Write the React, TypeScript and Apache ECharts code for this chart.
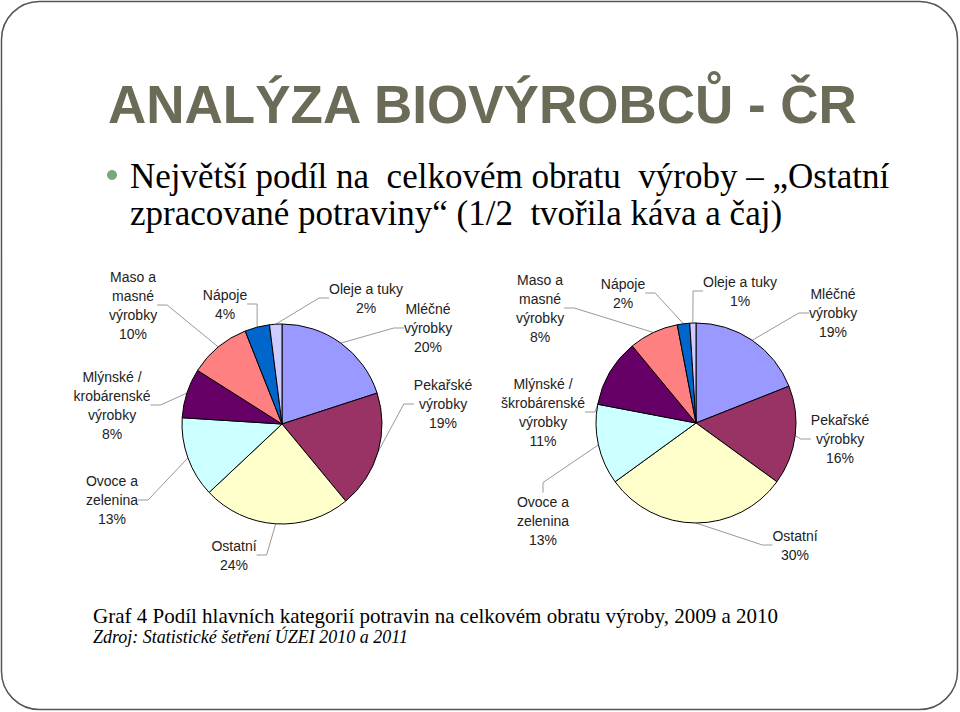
import React, { useEffect, useRef } from "react";
import * as echarts from "echarts";

// ---- data ----
const categories = [
  "Mléčné výrobky",
  "Pekařské výrobky",
  "Ostatní",
  "Ovoce a zelenina",
  "Mlýnské / škrobárenské výrobky",
  "Maso a masné výrobky",
  "Nápoje",
  "Oleje a tuky",
];
// label text as printed in each chart (line breaks as in the reference)
const labels2009 = [
  "Mléčné\nvýrobky",
  "Pekařské\nvýrobky",
  "Ostatní",
  "Ovoce a\nzelenina",
  "Mlýnské /\nkrobárenské\nvýrobky",
  "Maso a\nmasné\nvýrobky",
  "Nápoje",
  "Oleje a tuky",
];
const labels2010 = [
  "Mléčné\nvýrobky",
  "Pekařské\nvýrobky",
  "Ostatní",
  "Ovoce a\nzelenina",
  "Mlýnské /\nškrobárenské\nvýrobky",
  "Maso a\nmasné\nvýrobky",
  "Nápoje",
  "Oleje a tuky",
];
const values2009 = [20, 19, 24, 13, 8, 10, 4, 2];
const values2010 = [19, 16, 30, 13, 11, 8, 2, 1];

const sliceColors = [
  "#9999FF",
  "#993366",
  "#FFFFCC",
  "#CCFFFF",
  "#660066",
  "#FF8080",
  "#0066CC",
  "#CCCCFF",
];

// ---- layout (label anchor points, not data) ----
const labelPos2009: [number, number][] = [
  [428, 328],
  [443, 404],
  [234, 555],
  [112, 500],
  [112, 405],
  [133, 305],
  [225, 304],
  [366, 298],
];
const labelPos2010: [number, number][] = [
  [833, 313],
  [840, 439],
  [795, 545],
  [543, 521],
  [543, 412],
  [540, 308],
  [623, 293],
  [740, 291],
];

const titleText = "ANALÝZA BIOVÝROBCŮ - ČR";
const bulletLine1 = "Největší podíl na  celkovém obratu  výroby – „Ostatní";
const bulletLine2 = "zpracované potraviny“ (1/2  tvořila káva a čaj)";
const captionText =
  "Graf 4 Podíl hlavních kategorií potravin na celkovém obratu výroby, 2009 a 2010";
const sourceText = "Zdroj: Statistické šetření ÚZEI 2010 a 2011";

const SANS = "'Liberation Sans', Arial, sans-serif";
const SERIF = "'Liberation Serif', 'Times New Roman', serif";

function makePie(
  values: number[],
  texts: string[],
  pos: [number, number][],
  center: [number, number]
) {
  return {
    type: "pie",
    center,
    radius: 100,
    startAngle: 90,
    clockwise: true,
    silent: true,
    avoidLabelOverlap: false,
    emphasis: { disabled: true },
    itemStyle: { borderColor: "#000", borderWidth: 1 },
    label: {
      show: true,
      position: "outside",
      fontFamily: SANS,
      fontSize: 14,
      lineHeight: 19,
      color: "#222",
      align: "center",
    },
    labelLine: {
      show: true,
      length: 10,
      length2: 10,
      lineStyle: { color: "#999", width: 1 },
    },
    labelLayout: (p: any) => {
      const pt = pos[p.dataIndex];
      return { x: pt[0], y: pt[1], align: "center", verticalAlign: "middle" };
    },
    data: values.map((v, i) => ({
      name: categories[i],
      value: v,
      itemStyle: { color: sliceColors[i] },
      label: { formatter: texts[i] + "\n" + v + "%" },
    })),
  };
}

export default function App() {
  const ref = useRef<HTMLDivElement>(null);
  useEffect(() => {
    if (!ref.current) return;
    const chart = echarts.init(ref.current, undefined, { renderer: "svg" });
    chart.setOption({
      animation: false,
      backgroundColor: "#fff",
      graphic: [
        {
          type: "rect",
          shape: { x: 1.5, y: 1.5, width: 956, height: 708, r: 38 },
          style: { fill: "none", stroke: "#555", lineWidth: 1.5 },
          silent: true,
        },
        {
          type: "text",
          x: 108,
          y: 104,
          style: {
            text: titleText,
            fontFamily: SANS,
            fontWeight: "bold",
            fontSize: 53,
            fill: "#6b6b58",
            verticalAlign: "middle",
            align: "left",
          },
        },
        {
          type: "circle",
          shape: { cx: 112, cy: 175, r: 5 },
          style: { fill: "#79a77c" },
        },
        {
          type: "text",
          x: 130,
          y: 176,
          style: {
            text: bulletLine1,
            fontFamily: SERIF,
            fontSize: 35,
            fill: "#000",
            verticalAlign: "middle",
            align: "left",
          },
        },
        {
          type: "text",
          x: 130,
          y: 213,
          style: {
            text: bulletLine2,
            fontFamily: SERIF,
            fontSize: 35,
            fill: "#000",
            verticalAlign: "middle",
            align: "left",
          },
        },
        {
          type: "text",
          x: 93,
          y: 616,
          style: {
            text: captionText,
            fontFamily: SERIF,
            fontSize: 21,
            fill: "#000",
            verticalAlign: "middle",
            align: "left",
          },
        },
        {
          type: "text",
          x: 93,
          y: 637,
          style: {
            text: sourceText,
            fontFamily: SERIF,
            fontStyle: "italic",
            fontSize: 18,
            fill: "#000",
            verticalAlign: "middle",
            align: "left",
          },
        },
      ],
      series: [
        makePie(values2009, labels2009, labelPos2009, [282, 424]),
        makePie(values2010, labels2010, labelPos2010, [696, 423]),
      ],
    });
    return () => chart.dispose();
  }, []);
  return (
    <div
      ref={ref}
      style={{ position: "fixed", left: 0, top: 0, width: 960, height: 712 }}
    />
  );
}
